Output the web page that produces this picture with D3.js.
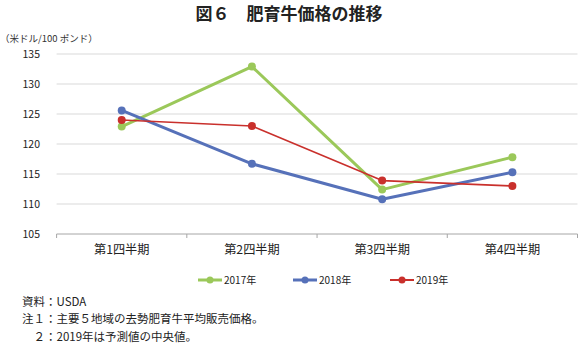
<!DOCTYPE html>
<html><head><meta charset="utf-8">
<script src="https://cdn.jsdelivr.net/npm/d3@7"></script>
<style>
body{margin:0;background:#fff;}
svg{display:block;font-family:"Noto Sans CJK JP","Noto Sans",sans-serif;}
</style></head>
<body><svg id="c" width="578" height="346"></svg>
<script>
const categories = ["第1四半期","第2四半期","第3四半期","第4四半期"];
const seriesNames = ["2017年","2018年","2019年"];
const values2017 = [122.9,132.9,112.4,117.8];
const values2018 = [125.6,116.7,110.8,115.3];
const values2019 = [124.0,123.0,113.9,113.0];
const yTicks = [105,110,115,120,125,130,135];
const notes = ["資料：USDA","注１：主要５地域の去勢肥育牛平均販売価格。","　２：2019年は予測値の中央値。"];

const series = [
  {name:seriesNames[0], values:values2017, color:"#9bc85a", width:3},
  {name:seriesNames[1], values:values2018, color:"#5671b9", width:3},
  {name:seriesNames[2], values:values2019, color:"#c9302c", width:1.6}
];

const svg = d3.select("#c");
const x = d3.scaleBand().domain(categories).range([56.6,577.5]);
const y = d3.scaleLinear().domain([105,135]).range([234,54]);

svg.append("text").attr("x",289).attr("y",20).attr("text-anchor","middle")
  .attr("font-size",17).attr("font-weight","bold").attr("fill","#222").text("図６　肥育牛価格の推移");
svg.append("text").attr("x",0).attr("y",42).attr("font-size",9.5).attr("fill","#333").text("（米ドル/100 ポンド）");

// gridlines
svg.append("g").selectAll("line").data(yTicks.filter(d=>d!==105)).join("line")
  .attr("x1",56.6).attr("x2",577.5).attr("y1",d=>y(d)).attr("y2",d=>y(d))
  .attr("stroke","#d9d9d9").attr("stroke-width",1);

// y labels
svg.append("g").selectAll("text").data(yTicks).join("text")
  .attr("x",40).attr("y",d=>y(d)+4).attr("text-anchor","end")
  .attr("font-size",10.5).attr("fill","#222").text(d=>d);

// x axis
const xa = svg.append("g").attr("transform","translate(0,234)")
  .call(d3.axisBottom(x).tickSize(0).tickPadding(11));
xa.select(".domain").attr("stroke","#a6a6a6").attr("d","M56.6,0H577.5");
xa.selectAll("text").attr("font-size",12.2).attr("fill","#222")
  .attr("font-family","\"Noto Sans CJK JP\",sans-serif");
const edges = categories.map(c=>x(c)).concat([x.range()[1]]);
xa.append("g").selectAll("line").data(edges).join("line")
  .attr("x1",d=>d).attr("x2",d=>d).attr("y1",0).attr("y2",4).attr("stroke","#a6a6a6");

const line = d3.line().x((d,i)=>x(categories[i])+x.bandwidth()/2).y(d=>y(d));
series.forEach(s=>{
  svg.append("path").attr("d",line(s.values)).attr("fill","none")
    .attr("stroke",s.color).attr("stroke-width",s.width).attr("stroke-linejoin","round");
  svg.append("g").selectAll("circle").data(s.values).join("circle")
    .attr("cx",(d,i)=>x(categories[i])+x.bandwidth()/2).attr("cy",d=>y(d))
    .attr("r",4).attr("fill",s.color);
});

// legend
const lx = [198,293,390];
series.forEach((s,i)=>{
  const g = svg.append("g").attr("transform",`translate(${lx[i]},280)`);
  g.append("line").attr("x1",0).attr("x2",24).attr("stroke",s.color).attr("stroke-width",s.width===3?3:2);
  g.append("circle").attr("cx",12).attr("r",3.5).attr("fill",s.color);
  g.append("text").attr("x",26).attr("y",4).attr("font-size",10).attr("fill","#222").text(s.name);
});

// notes
svg.append("g").selectAll("text").data(notes).join("text")
  .attr("x",22).attr("y",(d,i)=>306+i*17.3).attr("font-size",11.5).attr("fill","#222")
  .attr("xml:space","preserve").text(d=>d);
</script></body></html>
